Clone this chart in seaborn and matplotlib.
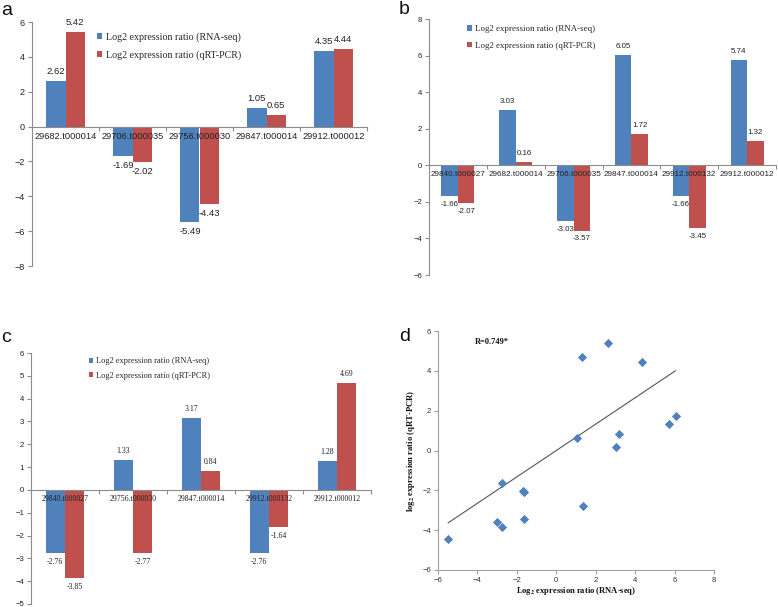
import numpy as np
import pandas as pd
import matplotlib
matplotlib.use('Agg')
import matplotlib.pyplot as plt
import seaborn as sns
from matplotlib.ticker import FixedLocator

sns.set_theme(style='ticks')
plt.rcParams['font.family'] = ['Liberation Sans', 'DejaVu Sans']
plt.rcParams['mathtext.fontset'] = 'stix'

BLUE = '#4F81BD'
RED = '#C0504D'
GRAY = '#8C8C8C'
SERIES = ['Log2 expression ratio (RNA-seq)', 'Log2 expression ratio (qRT-PCR)']

# ---- data ----
genes_a = ['29682.t000014', '29706.t000035', '29756.t000030', '29847.t000014', '29912.t000012']
rna_a = [2.62, -1.69, -5.49, 1.05, 4.35]
qpcr_a = [5.42, -2.02, -4.43, 0.65, 4.44]
yticks_a = [-8, -6, -4, -2, 0, 2, 4, 6]

genes_b = ['29840.t000027', '29682.t000014', '29706.t000035', '29847.t000014', '29912.t000132', '29912.t000012']
rna_b = [-1.66, 3.03, -3.03, 6.05, -1.66, 5.74]
qpcr_b = [-2.07, 0.16, -3.57, 1.72, -3.45, 1.32]
yticks_b = [-6, -4, -2, 0, 2, 4, 6, 8]

genes_c = ['29840.t000027', '29756.t000030', '29847.t000014', '29912.t000132', '29912.t000012']
rna_c = [-2.76, 1.33, 3.17, -2.76, 1.28]
qpcr_c = [-3.85, -2.77, 0.84, -1.64, 4.69]
yticks_c = [-5, -4, -3, -2, -1, 0, 1, 2, 3, 4, 5, 6]

xticks_d = [-6, -4, -2, 0, 2, 4, 6, 8]
yticks_d = [-6, -4, -2, 0, 2, 4, 6]
r_label = 'R=0.749*'

W, H = 778, 607
fig = plt.figure(figsize=(W / 100, H / 100), dpi=100)


def rect(l, t, r, b):
    return [l / W, 1 - b / H, (r - l) / W, (b - t) / H]


def bar_panel(box, genes, rna, qpcr, yticks, ytick_size, xtick_font, xtick_size,
              lab_font, lab_size, leg_anchor, leg_size, leg_spacing):
    ax = fig.add_axes(rect(*box))
    n = len(genes)
    df = pd.DataFrame({
        'gene': genes + genes,
        'value': rna + qpcr,
        'series': [SERIES[0]] * n + [SERIES[1]] * n,
    })
    sns.barplot(data=df, x='gene', y='value', hue='series', palette=[BLUE, RED],
                width=0.57, saturation=1, errorbar=None, linewidth=0, ax=ax)
    ax.set_axisbelow(False)
    ax.set_ylim(min(yticks), max(yticks))
    ax.set_yticks(yticks)
    ax.set_xlim(-0.5, n - 0.5)
    ax.set_xlabel('')
    ax.set_ylabel('')
    for s in ['top', 'right']:
        ax.spines[s].set_visible(False)
    ax.spines['bottom'].set_position(('data', 0))
    for s in ['bottom', 'left']:
        ax.spines[s].set_color(GRAY)
        ax.spines[s].set_linewidth(0.8)
    ax.set_xticks(range(n))
    ax.set_xticklabels(genes, fontfamily=xtick_font, fontsize=xtick_size, color='#222222')
    ax.tick_params(axis='x', which='major', length=0, pad=4)
    ax.xaxis.set_minor_locator(FixedLocator(np.arange(n + 1) - 0.5))
    ax.tick_params(axis='x', which='minor', length=3, direction='out', color=GRAY, width=0.8)
    ax.tick_params(axis='y', length=3, direction='out', color=GRAY, width=0.8,
                   labelsize=ytick_size, labelcolor='#222222', pad=2)
    for c in ax.containers:
        ax.bar_label(c, fmt='%.2f', padding=3.5, fontsize=lab_size, family=lab_font,
                     color='#222222')
    handles, labels = ax.get_legend_handles_labels()
    ax.legend(handles, labels, loc='center left', bbox_to_anchor=leg_anchor,
              frameon=False, prop={'family': 'Liberation Serif', 'size': leg_size},
              handlelength=0.55, handleheight=0.55, handletextpad=0.35,
              labelspacing=leg_spacing, borderpad=0, borderaxespad=0)
    return ax


bar_panel((32, 22, 367, 266), genes_a, rna_a, qpcr_a, yticks_a, 6.5,
          'Liberation Sans', 6.7, 'Liberation Sans', 6.8, (0.194, 0.9016), 7.2, 0.85)
bar_panel((429, 19, 776, 275), genes_b, rna_b, qpcr_b, yticks_b, 5.6,
          'Liberation Sans', 5.9, 'Liberation Sans', 5.7, (0.1095, 0.928), 6.4, 0.95)
bar_panel((31, 353, 371, 604), genes_c, rna_c, qpcr_c, yticks_c, 5.6,
          'Liberation Serif', 5.7, 'Liberation Serif', 5.6, (0.17, 0.938), 6.0, 0.8)

# ---- panel d ----
axd = fig.add_axes(rect(438, 331, 714, 570))
x_all = np.array(rna_a + rna_b + rna_c)
y_all = np.array(qpcr_a + qpcr_b + qpcr_c)
sns.scatterplot(x=x_all, y=y_all, marker='D', s=22, color=BLUE, edgecolor=BLUE,
                linewidth=0, ax=axd, zorder=3)
slope = np.sum(x_all * y_all) / np.sum(x_all * x_all)
xs = np.array([x_all.min(), x_all.max()])
axd.plot(xs, slope * xs, color='#555555', lw=0.8, zorder=2)
axd.set_xlim(min(xticks_d), max(xticks_d))
axd.set_ylim(min(yticks_d), max(yticks_d))
axd.set_xticks(xticks_d)
axd.set_yticks(yticks_d)
for s in ['top', 'right']:
    axd.spines[s].set_visible(False)
for s in ['bottom', 'left']:
    axd.spines[s].set_color('#A0A0A0')
    axd.spines[s].set_linewidth(0.8)
axd.tick_params(length=3, direction='out', color='#A0A0A0', width=0.8,
                labelsize=5.6, labelcolor='#333333', pad=2)
axd.set_xlabel(r'Log$_\mathbf{2}$ expression ratio (RNA-seq)', fontfamily='Liberation Serif',
               fontweight='bold', fontsize=6.1, labelpad=1, color='#111111')
axd.set_ylabel(r'log$_\mathbf{2}$ expression ratio (qRT-PCR)', fontfamily='Liberation Serif',
               fontweight='bold', fontsize=6.2, labelpad=4, color='#111111')
axd.text(0.134, 0.954, r_label, transform=axd.transAxes, ha='left', va='center',
         fontfamily='Liberation Serif', fontweight='bold', fontsize=6.0, color='#111111')

# panel letters
for letter, px, py in [('a', 1, 15), ('b', 399, 14), ('c', 1, 342), ('d', 399, 341)]:
    fig.text(px / W, 1 - py / H, letter, fontsize=14, fontfamily='Liberation Sans',
             va='baseline', ha='left', color='#111111')

fig.savefig('out.png', dpi=100)
